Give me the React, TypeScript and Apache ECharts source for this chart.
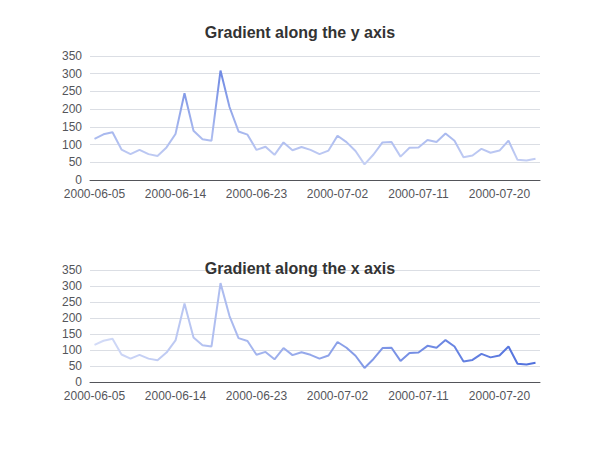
import React, { useEffect, useRef } from "react";
import * as echarts from "echarts";

const dateList: string[] = [
  "2000-06-05","2000-06-06","2000-06-07","2000-06-08","2000-06-09","2000-06-10","2000-06-11","2000-06-12","2000-06-13","2000-06-14",
  "2000-06-15","2000-06-16","2000-06-17","2000-06-18","2000-06-19","2000-06-20","2000-06-21","2000-06-22","2000-06-23","2000-06-24",
  "2000-06-25","2000-06-26","2000-06-27","2000-06-28","2000-06-29","2000-06-30","2000-07-01","2000-07-02","2000-07-03","2000-07-04",
  "2000-07-05","2000-07-06","2000-07-07","2000-07-08","2000-07-09","2000-07-10","2000-07-11","2000-07-12","2000-07-13","2000-07-14",
  "2000-07-15","2000-07-16","2000-07-17","2000-07-18","2000-07-19","2000-07-20","2000-07-21","2000-07-22","2000-07-23","2000-07-24"
];
const valueList: number[] = [
  116,129,135,86,73,85,73,68,92,130,
  245,139,115,111,309,206,137,128,85,94,
  71,106,84,93,85,73,83,125,107,82,
  44,72,106,107,66,91,92,113,107,131,
  111,64,69,88,77,83,111,57,55,60
];

export default function App() {
  const ref = useRef<HTMLDivElement>(null);
  useEffect(() => {
    if (!ref.current) return;
    const chart = echarts.init(ref.current, undefined, { renderer: "svg" });
    const titleStyle = { fontSize: 16, fontWeight: "bold", color: "#333" };
    chart.setOption({
      animation: false,
      visualMap: [
        { show: false, type: "continuous", seriesIndex: 0, min: 0, max: 400 },
        { show: false, type: "continuous", seriesIndex: 1, dimension: 0, min: 0, max: dateList.length - 1 },
      ],
      title: [
        { left: "center", top: 24, padding: 0, text: "Gradient along the y axis", textStyle: titleStyle },
        { left: "center", top: 260, padding: 0, text: "Gradient along the x axis", textStyle: titleStyle },
      ],
      tooltip: { trigger: "axis" },
      xAxis: [
        { data: dateList, axisLabel: { fontSize: 12 } },
        { data: dateList, gridIndex: 1, axisLabel: { fontSize: 12 } },
      ],
      yAxis: [{ axisLabel: { fontSize: 12 } }, { gridIndex: 1, axisLabel: { fontSize: 12 } }],
      grid: [
        { left: 90, right: 60, top: 56, bottom: 270, outerBoundsMode: "none", containLabel: false },
        { left: 90, right: 60, top: 270, bottom: 68, outerBoundsMode: "none", containLabel: false },
      ],
      series: [
        { type: "line", showSymbol: false, data: valueList },
        { type: "line", showSymbol: false, data: valueList, xAxisIndex: 1, yAxisIndex: 1 },
      ],
    });
    return () => chart.dispose();
  }, []);
  return <div ref={ref} style={{ position: "absolute", left: 0, top: 0, width: 600, height: 450 }} />;
}
